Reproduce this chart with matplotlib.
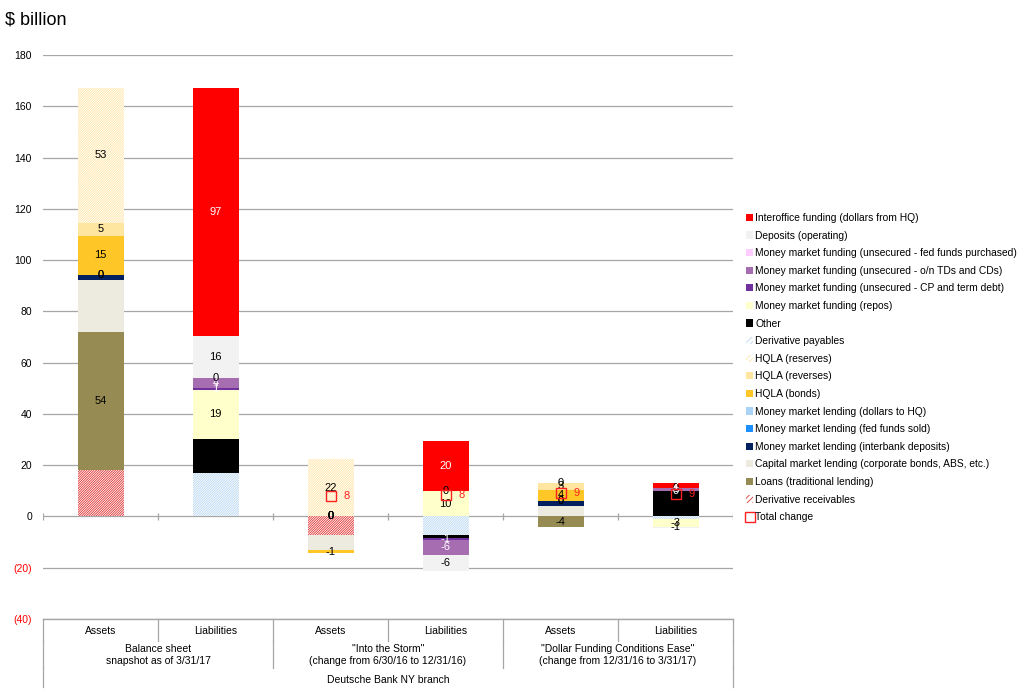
import numpy as np
import matplotlib.pyplot as plt
from matplotlib.patches import Patch
from matplotlib.lines import Line2D
from matplotlib.transforms import blended_transform_factory

plt.rcParams['font.family'] = ['Liberation Sans', 'DejaVu Sans']
plt.rcParams['hatch.linewidth'] = 0.6

nan = np.nan

# columns: BS assets, BS liabilities, Storm assets, Storm liabilities, Ease assets, Ease liabilities
columns = ['Assets', 'Liabilities', 'Assets', 'Liabilities', 'Assets', 'Liabilities']
groups = ['Balance sheet\nsnapshot as of 3/31/17',
          '"Into the Storm"\n(change from 6/30/16 to 12/31/16)',
          '"Dollar Funding Conditions Ease"\n(change from 12/31/16 to 3/31/17)']
bank = 'Deutsche Bank NY branch'

# series in stacking order, bottom up
deriv_receivables = [18.2, nan, -7.4, nan, 0.3, nan]
loans = [53.9, nan, 0.0, nan, -4.0, nan]
capital_market = [20.2, nan, -5.8, nan, 3.9, nan]
interbank = [2.0, nan, 0.0, nan, 1.9, nan]
fed_funds_sold = [0.0, nan, 0.0, nan, 0.0, nan]
dollars_to_hq = [0.0, nan, 0.0, nan, 0.0, nan]
hqla_bonds = [15.2, nan, -1.2, nan, 4.2, nan]
hqla_reverses = [5.0, nan, 0.0, nan, 2.8, nan]
hqla_reserves = [52.6, nan, 22.4, nan, 0.0, nan]
deriv_payables = [nan, 16.8, nan, -7.4, nan, -1.0]
other = [nan, 13.6, nan, -1.1, nan, 10.1]
repos = [nan, 19.1, nan, 9.8, nan, -3.0]
cp_term = [nan, 0.8, nan, -0.6, nan, 0.0]
on_tds = [nan, 3.8, nan, -6.0, nan, 1.1]
ff_purchased = [nan, 0.0, nan, 0.0, nan, 0.0]
deposits = [nan, 16.4, nan, -6.0, nan, -0.6]
interoffice = [nan, 96.6, nan, 19.6, nan, 2.0]

# (name, values, face, hatch colour, label colour)
series = [
    ('Derivative receivables', deriv_receivables, 'white', '#e03030', None),
    ('Loans (traditional lending)', loans, '#968b53', None, 'black'),
    ('Capital market lending (corporate bonds, ABS, etc.)', capital_market, '#edeae0', None, None),
    ('Money market lending (interbank deposits)', interbank, '#002060', None, None),
    ('Money market lending (fed funds sold)', fed_funds_sold, '#1e8fff', None, 'black'),
    ('Money market lending (dollars to HQ)', dollars_to_hq, '#a9d3f7', None, 'black'),
    ('HQLA (bonds)', hqla_bonds, '#ffc628', None, 'black'),
    ('HQLA (reverses)', hqla_reverses, '#ffe6a0', None, 'black'),
    ('HQLA (reserves)', hqla_reserves, 'white', '#ffe6a6', 'black'),
    ('Derivative payables', deriv_payables, 'white', '#b8d6f2', None),
    ('Other', other, 'black', None, None),
    ('Money market funding (repos)', repos, '#ffffcc', None, 'black'),
    ('Money market funding (unsecured - CP and term debt)', cp_term, '#7030a0', None, 'white'),
    ('Money market funding (unsecured - o/n TDs and CDs)', on_tds, '#a66db0', None, 'white'),
    ('Money market funding (unsecured - fed funds purchased)', ff_purchased, '#ffccff', None, 'black'),
    ('Deposits (operating)', deposits, '#f2f2f2', None, 'black'),
    ('Interoffice funding (dollars from HQ)', interoffice, '#ff0000', None, 'white'),
]

HATCH = '/' * 14

fig = plt.figure(figsize=(10.17, 6.92), dpi=100)
ax = fig.add_axes([43 / 1017, 1 - 619 / 692, 690 / 1017, 564 / 692])

x = np.arange(len(columns))
width = 0.4
pos_base = np.zeros(len(columns))
neg_base = np.zeros(len(columns))
handles = []

for name, vals, face, hatch_col, lab_col in series:
    vals = np.array(vals, dtype=float)
    for i, v in enumerate(vals):
        if np.isnan(v):
            continue
        if v >= 0:
            bottom = pos_base[i]
            pos_base[i] += v
        else:
            bottom = neg_base[i]
            neg_base[i] += v
        if hatch_col:
            ax.bar(x[i], v, width, bottom=bottom, facecolor=face, edgecolor=hatch_col,
                   hatch=HATCH, linewidth=0, zorder=3)
        elif v != 0:
            ax.bar(x[i], v, width, bottom=bottom, color=face, linewidth=0, zorder=3)
        if lab_col:
            ax.text(x[i], bottom + v / 2, f'{round(v):.0f}', ha='center', va='center',
                    fontsize=8, color=lab_col, zorder=5)
    if hatch_col:
        handles.append(Patch(facecolor='white', edgecolor=hatch_col, hatch='//////',
                             linewidth=0, label=name))
    else:
        handles.append(Patch(facecolor=face, linewidth=0, label=name))

# total change markers for the change columns
all_vals = np.array([s[1] for s in series], dtype=float)
totals = np.nansum(all_vals, axis=0)
for i in range(2, len(columns)):
    ax.plot(x[i], totals[i], marker='s', markersize=7, markerfacecolor='none',
            markeredgecolor='#ff2020', markeredgewidth=1.0, linestyle='none', zorder=6)
    ax.text(x[i] + 0.11, totals[i], f'{round(totals[i]):.0f}', ha='left', va='center',
            fontsize=8, color='#ff2020', zorder=6)
handles.append(Line2D([], [], marker='s', markersize=6.5, markerfacecolor='white',
                      markeredgecolor='#ff2020', markeredgewidth=1.0, linestyle='none',
                      label='Total change'))

ax.set_xlim(-0.5, len(columns) - 0.5)
ax.set_ylim(-40, 180)
yticks = np.arange(-40, 181, 20)
ax.set_yticks(yticks)
ax.set_yticklabels([f'({-t})' if t < 0 else str(t) for t in yticks], fontsize=7.5)
for lab, t in zip(ax.get_yticklabels(), yticks):
    if t < 0:
        lab.set_color('#ff0000')
ax.tick_params(axis='y', length=0, pad=8)
ax.set_xticks([])
ax.grid(axis='y', color='#a6a6a6', linewidth=0.9, zorder=0)
for s in ax.spines.values():
    s.set_visible(False)

bounds = np.arange(-0.5, len(columns), 1.0)
ax.vlines(bounds, -1.5, 1.5, color='#a6a6a6', linewidth=0.9, zorder=1)

# category table under the plot
tr = blended_transform_factory(ax.transData, fig.transFigure)
def fy(py):
    return 1 - py / 692
ax.plot([-0.5, 5.5], [fy(619), fy(619)], transform=tr, color='#a6a6a6', lw=1.0, clip_on=False)
for b in bounds:
    ax.plot([b, b], [fy(619), fy(641)], transform=tr, color='#a6a6a6', lw=0.9, clip_on=False)
for b in bounds[::2]:
    ax.plot([b, b], [fy(641), fy(668)], transform=tr, color='#a6a6a6', lw=0.9, clip_on=False)
for b in (bounds[0], bounds[-1]):
    ax.plot([b, b], [fy(668), fy(687)], transform=tr, color='#a6a6a6', lw=0.9, clip_on=False)
for i, c in enumerate(columns):
    ax.text(x[i], fy(631), c, transform=tr, ha='center', va='center', fontsize=7.5)
for g, name in enumerate(groups):
    ax.text(2 * g + 0.5, fy(655), name, transform=tr, ha='center', va='center',
            fontsize=7.5, linespacing=1.25)
ax.text(2.5, fy(680), bank, transform=tr, ha='center', va='center', fontsize=7.5)

fig.text(5 / 1017, fy(20), r'\$ billion', fontsize=13, ha='left', va='center')

fig.legend(handles=handles[::-1][1:] + [handles[-1]], loc='upper left',
           bbox_to_anchor=(746 / 1017, fy(213)), frameon=False, fontsize=7.4,
           handlelength=0.7, handleheight=0.7, handletextpad=0.2,
           labelspacing=0.74, borderaxespad=0, borderpad=0)

fig.savefig('out.png', dpi=100)
